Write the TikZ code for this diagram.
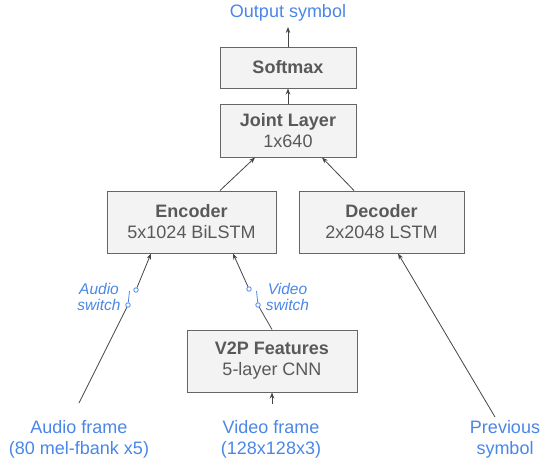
\documentclass[tikz,border=0pt]{standalone}
\usepackage{fontspec}
\setmainfont{Liberation Sans}
\usetikzlibrary{arrows.meta}
\definecolor{boxfill}{HTML}{F3F3F3}
\definecolor{boxline}{HTML}{666666}
\definecolor{boxtext}{HTML}{595959}
\definecolor{gblue}{HTML}{4A86E8}
\definecolor{wire}{HTML}{444444}
\begin{document}
\begin{tikzpicture}[x=1pt,y=-1pt,
		layer/.style={draw=boxline,line width=1pt,fill=boxfill,text=boxtext,align=center,inner sep=0pt,font=\fontsize{18}{21}\selectfont},
		lbl/.style={text=gblue,align=center,inner sep=0pt,font=\fontsize{18}{21}\selectfont},
		swlbl/.style={text=gblue,align=center,inner sep=0pt,font=\fontsize{15.5}{16}\selectfont\itshape},
		pin/.style={circle,draw=gblue,fill=white,inner sep=0pt,minimum size=4.5pt,line width=0.8pt},
		wired/.style={draw=wire,line width=0.8pt},
		>={Stealth[length=6pt,width=4.5pt]}]
		\useasboundingbox (0,0) rectangle (540,458);

		\node[layer,minimum width=136pt,minimum height=41pt] (soft) at (288,67.5) {\textbf{Softmax}};
		\node[layer,minimum width=136pt,minimum height=53pt] (joint) at (288,130.5) {\textbf{Joint Layer}\\1x640};
		\node[layer,minimum width=169pt,minimum height=62pt] (enc) at (191.5,222) {\textbf{Encoder}\\5x1024 BiLSTM};
		\node[layer,minimum width=165pt,minimum height=62pt] (dec) at (381.5,222) {\textbf{Decoder}\\2x2048 LSTM};
		\node[layer,minimum width=170pt,minimum height=62pt] (v2p) at (272,361) {\textbf{V2P Features}\\5-layer CNN};

		\node[lbl] (out) at (288,13) {Output symbol};
		\node[lbl] (aud) at (79,439.5) {Audio frame\\(80 mel-fbank x5)};
		\node[lbl] (vid) at (271,439.5) {Video frame\\(128x128x3)};
		\node[lbl] (prev) at (505,439.5) {Previous\\symbol};
		\node[swlbl] (audsw) at (99,296.5) {Audio\\switch};
		\node[swlbl] (vidsw) at (287.5,297) {Video\\switch};

		% switch contacts
		\node[pin] (atop) at (136,290) {};
		\node[pin] (abot) at (128,305) {};
		\node[pin] (vtop) at (249,289) {};
		\node[pin] (vbot) at (258,305) {};
		\coordinate (ablade) at (129.5,291);
		\coordinate (vblade) at (256.5,291);

		\coordinate (outtip) at (288,27);
		\coordinate (afoot) at (79,403);
		\coordinate (vfoot) at (272,404);
		\coordinate (pfoot) at (495,417);

		\draw[wired,->] (soft) -- (outtip);
		\draw[wired,->] (joint) -- (soft);
		\draw[wired,->] ([xshift=28.5pt]enc.north) -- ([xshift=-33pt]joint.south);
		\draw[wired,->] ([xshift=-27.5pt]dec.north) -- ([xshift=34pt]joint.south);

		\draw[wired] (afoot) -- (abot);
		\draw[gblue,line width=0.8pt] (abot) -- (ablade);
		\draw[wired,->] (atop) -- ([xshift=-40.5pt]enc.south);

		\draw[wired] ([xshift=0pt]v2p.north) -- (vbot);
		\draw[gblue,line width=0.8pt] (vbot) -- (vblade);
		\draw[wired,->] (vtop) -- ([xshift=41.5pt]enc.south);

		\draw[wired,->] (vfoot) -- (v2p.south);
		\draw[wired,->] (pfoot) -- ([xshift=16.5pt]dec.south);
	\end{tikzpicture}
\end{document}
